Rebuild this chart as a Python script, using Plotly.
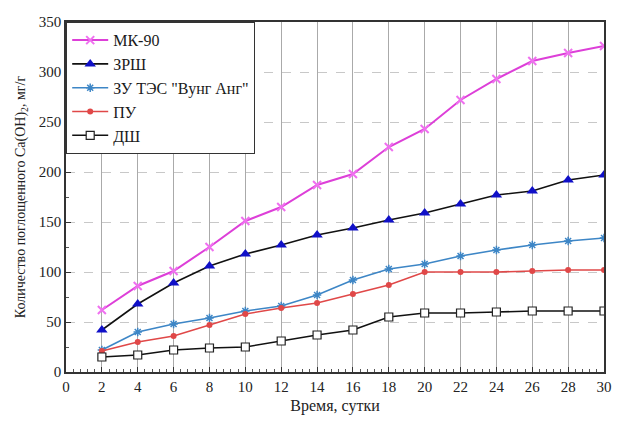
import plotly.graph_objects as go

days = [2, 4, 6, 8, 10, 12, 14, 16, 18, 20, 22, 24, 26, 28, 30]
mk90 = [62, 86, 101, 125, 151, 165, 187, 198, 225, 243, 272, 293, 311, 319, 326]
zrsh = [42, 68, 89, 106, 118, 127, 137, 144, 152, 159, 168, 177, 181, 192, 197]
zu_tes = [22, 40, 48, 54, 61, 66, 77, 92, 103, 108, 116, 122, 127, 131, 134]
pu = [21, 30, 36, 47, 58, 64, 69, 78, 87, 100, 100, 100, 101, 102, 102]
dsh = [15, 17, 22, 24, 25, 31, 37, 42, 55, 59, 59, 60, 61, 61, 61]

names = ["МК-90", "ЗРШ", "ЗУ ТЭС \"Вунг Анг\"", "ПУ", "ДШ"]
xticks = list(range(0, 31, 2))
yticks = list(range(0, 351, 50))

FONT = "Liberation Serif, Times New Roman, DejaVu Serif, serif"

fig = go.Figure()
fig.add_trace(go.Scatter(x=days, y=mk90, name=names[0], mode="lines+markers",
                         line=dict(color="#dd3fd8", width=2),
                         marker=dict(symbol="x-thin-open", size=8, color="#f070f0",
                                     line=dict(color="#f070f0", width=2))))
fig.add_trace(go.Scatter(x=days, y=zrsh, name=names[1], mode="lines+markers",
                         line=dict(color="#111111", width=1.6),
                         marker=dict(symbol="triangle-up", size=10, color="#1010c8")))
fig.add_trace(go.Scatter(x=days, y=zu_tes, name=names[2], mode="lines+markers",
                         line=dict(color="#3d86c6", width=1.6),
                         marker=dict(symbol="asterisk-open", size=7,
                                     line=dict(color="#111111", width=1.5))))
fig.add_trace(go.Scatter(x=days, y=pu, name=names[3], mode="lines+markers",
                         line=dict(color="#e04848", width=1.6),
                         marker=dict(symbol="circle", size=6, color="#e04848")))
fig.add_trace(go.Scatter(x=days, y=dsh, name=names[4], mode="lines+markers",
                         line=dict(color="#111111", width=1.6),
                         marker=dict(symbol="square", size=8, color="white",
                                     line=dict(color="#222222", width=1.2))))

fig.update_layout(
    width=621, height=421,
    margin=dict(l=66, r=9, t=22, b=45),
    paper_bgcolor="white", plot_bgcolor="white",
    font=dict(family=FONT, size=14, color="#222222"),
    showlegend=True,
    legend=dict(x=0, y=1, xanchor="left", yanchor="top",
                bgcolor="white", bordercolor="#333333", borderwidth=1.2,
                font=dict(family=FONT, size=16, color="#1a1a1a"),
                itemwidth=36, tracegroupgap=0),
)
fig.update_xaxes(
    range=[0, 30], tickvals=xticks, ticktext=[str(v) for v in xticks],
    ticks="inside", ticklen=5, tickcolor="#333333",
    minor=dict(ticks="inside", ticklen=3, dtick=0.4, tickcolor="#555555",
               showgrid=False),
    showgrid=True, gridcolor="#aaaaaa", gridwidth=1,
    showline=True, linecolor="#333333", linewidth=1.5, mirror=True,
    zeroline=False,
    title=dict(text="Время, сутки", font=dict(family=FONT, size=16), standoff=6),
    tickfont=dict(family=FONT, size=15),
)
fig.update_yaxes(
    range=[0, 350], tickvals=yticks, ticktext=[str(v) for v in yticks],
    ticks="inside", ticklen=5, tickcolor="#333333",
    minor=dict(ticks="inside", ticklen=3, dtick=25, tickcolor="#555555",
               showgrid=False),
    showgrid=True, gridcolor="#c8c8c8", gridwidth=1, griddash="dash",
    showline=True, linecolor="#333333", linewidth=1.5, mirror=True,
    zeroline=False,
    title=dict(text="Количество поглощенного Ca(OH)<sub>2</sub>, мг/г",
               font=dict(family=FONT, size=14), standoff=10),
    tickfont=dict(family=FONT, size=15),
)

fig.write_html("out.html", config={"displayModeBar": False},
               post_script="document.body.style.margin='0';")
